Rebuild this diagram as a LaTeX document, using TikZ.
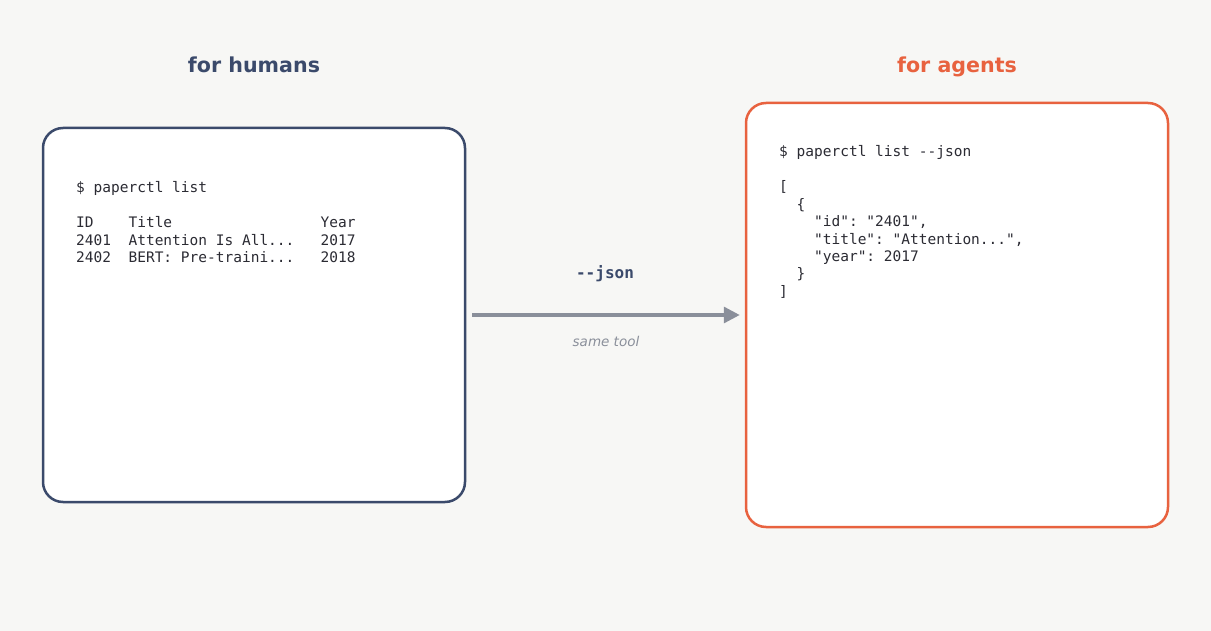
\documentclass[tikz,border=0pt]{standalone}
\usepackage{fontspec}
\setmainfont{DejaVu Sans}
\setmonofont{DejaVu Sans Mono}
\usetikzlibrary{arrows.meta}
\definecolor{bg}{HTML}{F7F7F5}
\definecolor{humanc}{HTML}{3B4A6B}
\definecolor{agentc}{HTML}{E8623F}
\definecolor{codec}{HTML}{2B2B33}
\definecolor{arrc}{HTML}{8A8F9A}
\newcommand\gap[1]{\hspace*{#1\fontcharwd\font`0}}
\tikzset{
  panel/.style={draw, line width=2.5pt, fill=white, rounded corners=20pt, inner sep=0pt},
  title/.style={font=\bfseries\fontsize{20.6}{24}\selectfont, anchor=base, inner sep=0pt},
  code/.style={font=\ttfamily\fontsize{14.5}{17.5}\selectfont, text=codec, anchor=base west, inner sep=0pt},
  arr/.style={draw=arrc, line width=3.2pt, -{Triangle[length=16pt,width=16pt]}, shorten <=6pt, shorten >=5pt},
}
\begin{document}
\begin{tikzpicture}[x=1pt,y=-1pt]
\fill[bg] (0,0) rectangle (1211,631);
\useasboundingbox (0,0) rectangle (1211,631);

\node[title, text=humanc] (th) at (254,72.5) {for humans};
\node[title, text=agentc] (ta) at (957,72.5) {for agents};

\node[panel, draw=humanc, minimum width=422pt, minimum height=374pt] (L) at (254,315) {};
\node[panel, draw=agentc, minimum width=422pt, minimum height=424pt] (R) at (957,315) {};

% left code
\node[code] (l1) at (76,192.5) {\$ paperctl list};
\node[code] (l2) at (76,228) {ID\gap{4}Title\gap{17}Year};
\node[code] (l3) at (76,245.5) {2401\gap{2}Attention Is All...\gap{3}2017};
\node[code] (l4) at (76,263) {2402\gap{2}BERT: Pre-traini...\gap{3}2018};

% right code
\node[code] (r1) at (779,157) {\$ paperctl list --json};
\node[code] (r2) at (779,192) {[};
\node[code] (r3) at (779,209.4) {\gap{2}\{};
\node[code] (r4) at (779,226.8) {\gap{4}"id": "2401",};
\node[code] (r5) at (779,244.2) {\gap{4}"title": "Attention...",};
\node[code] (r6) at (779,261.6) {\gap{4}"year": 2017};
\node[code] (r7) at (779,279) {\gap{2}\}};
\node[code] (r8) at (779,296.4) {]};

\draw[arr] (L.east) -- (R.west);
\node[font=\ttfamily\bfseries\fontsize{16}{19}\selectfont, text=humanc, anchor=base, inner sep=0pt] (lj) at (605,279) {--json};
\node[font=\itshape\fontsize{13.5}{16}\selectfont, text=arrc, anchor=base, inner sep=0pt] (ls) at (606,346.5) {same tool};
\end{tikzpicture}
\end{document}
